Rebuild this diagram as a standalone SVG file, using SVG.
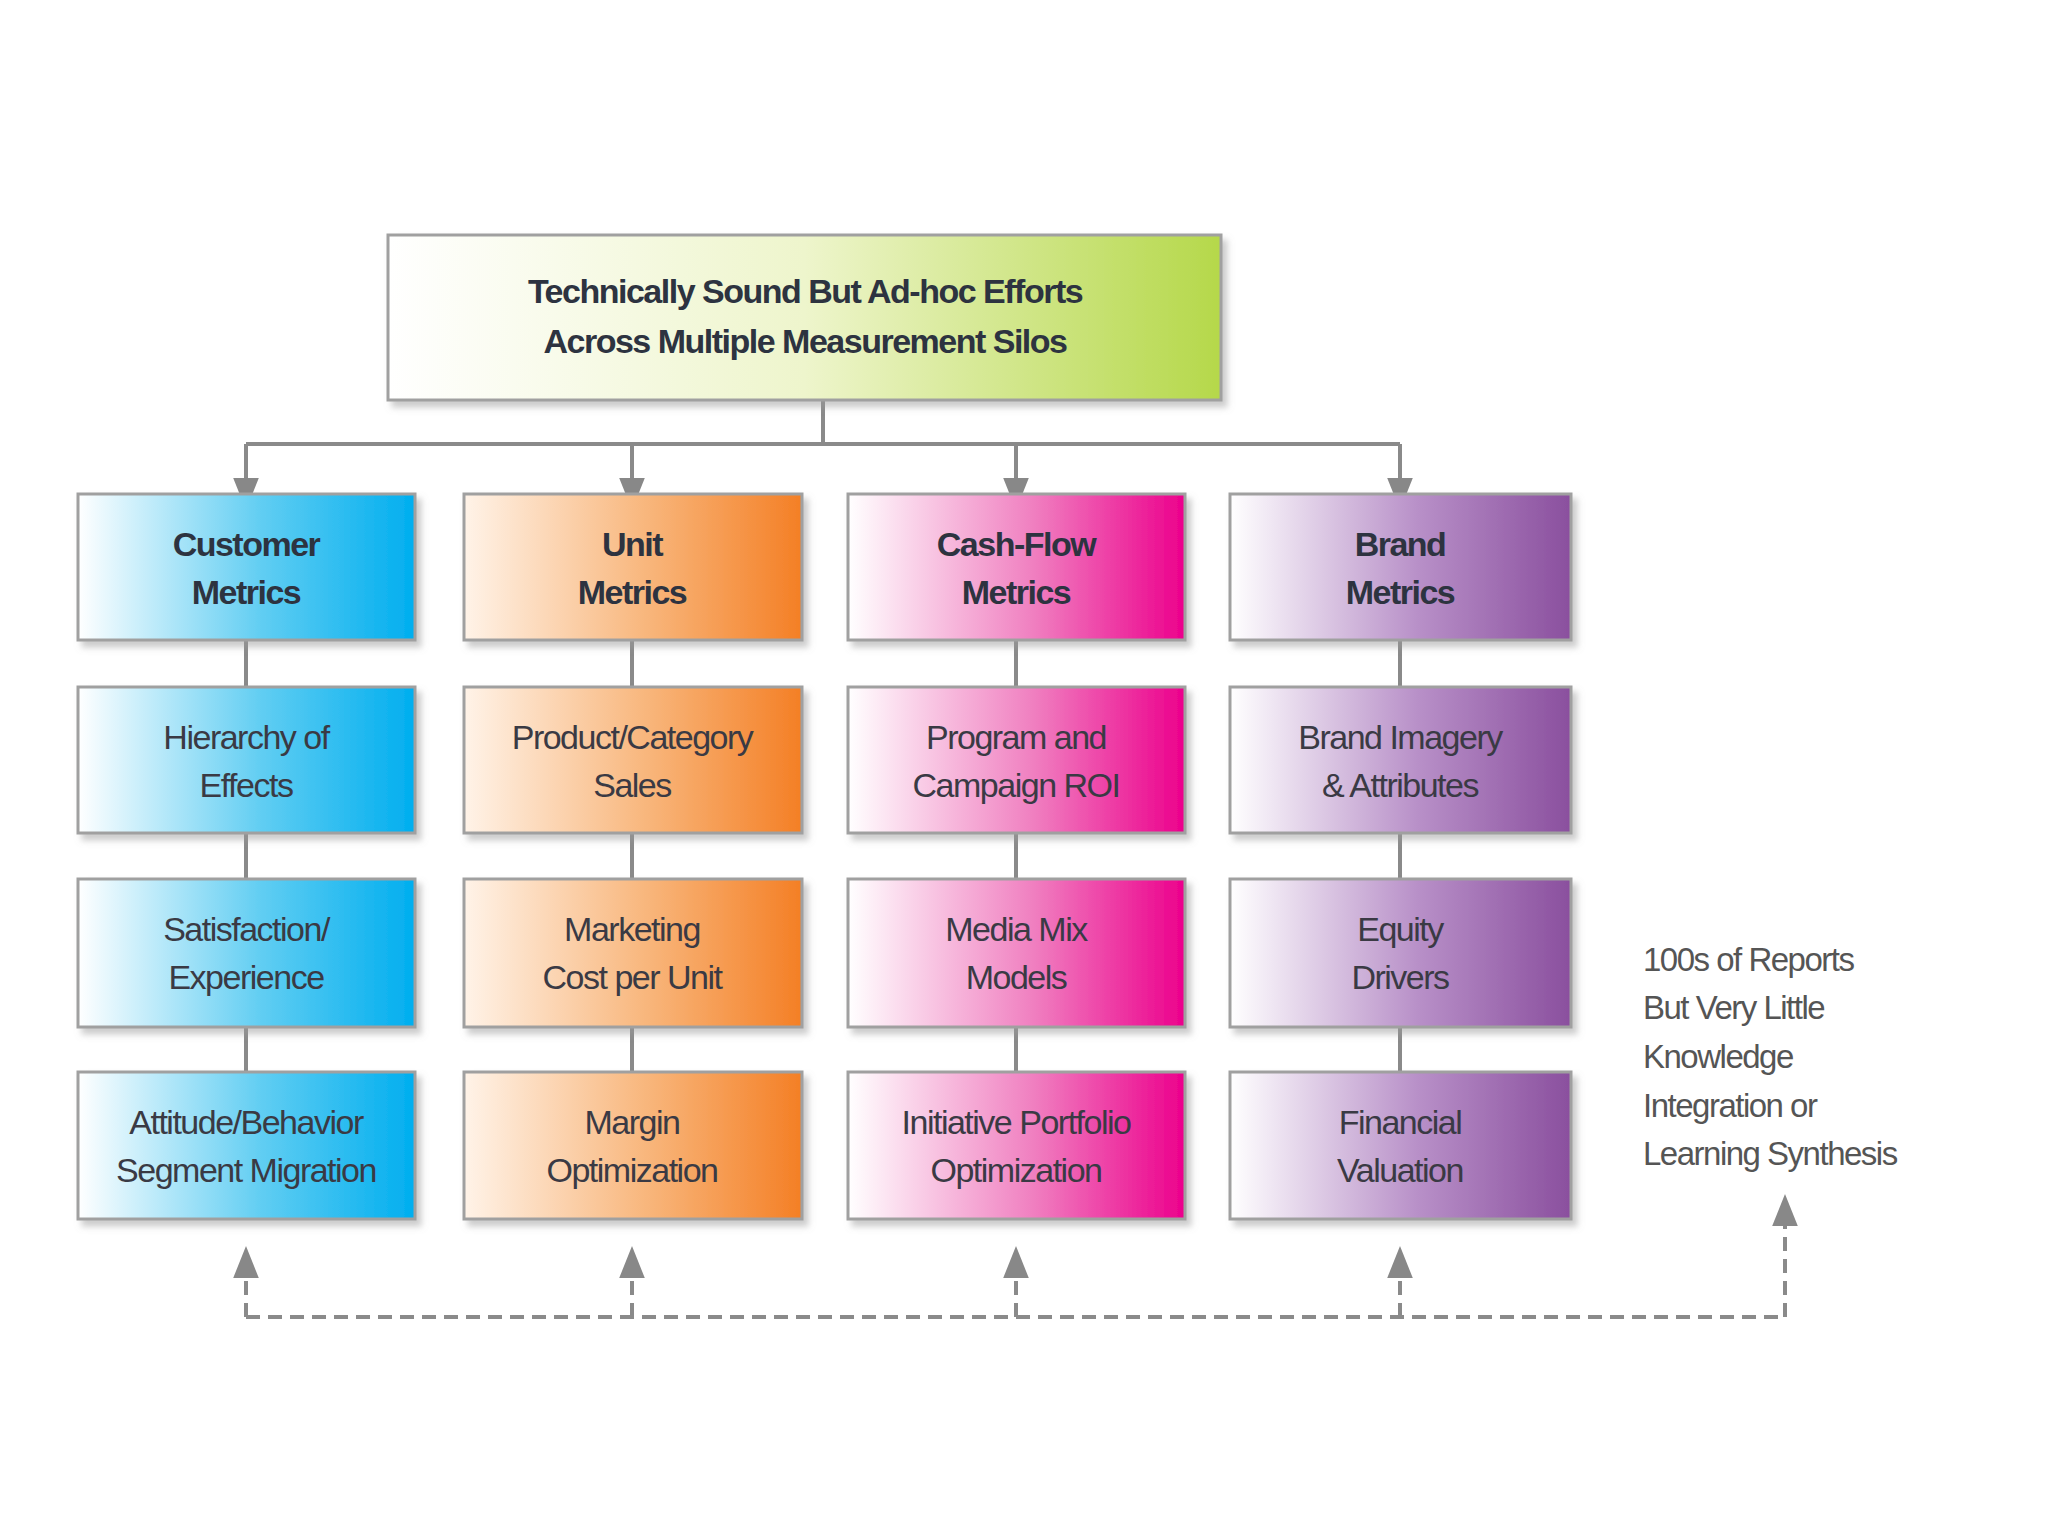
<svg xmlns="http://www.w3.org/2000/svg" width="2048" height="1536" viewBox="0 0 2048 1536">
<defs>
<linearGradient id="gTop" x1="0" x2="1"><stop offset="0" stop-color="#ffffff"/><stop offset="0.5" stop-color="#eef5cc"/><stop offset="1" stop-color="#b5d84a"/></linearGradient>
<linearGradient id="gB" x1="0" x2="1"><stop offset="0" stop-color="#ffffff"/><stop offset="0.55" stop-color="#5fcdf2"/><stop offset="1" stop-color="#00aeef"/></linearGradient>
<linearGradient id="gO" x1="0" x2="1"><stop offset="0" stop-color="#fff3e8"/><stop offset="0.55" stop-color="#f8b57a"/><stop offset="1" stop-color="#f47f25"/></linearGradient>
<linearGradient id="gP" x1="0" x2="1"><stop offset="0" stop-color="#ffffff"/><stop offset="0.55" stop-color="#f07fc0"/><stop offset="1" stop-color="#ec008c"/></linearGradient>
<linearGradient id="gV" x1="0" x2="1"><stop offset="0" stop-color="#ffffff"/><stop offset="0.55" stop-color="#b890c8"/><stop offset="1" stop-color="#8a4f9e"/></linearGradient>
<marker id="ah" viewBox="0 0 10 10" refX="5" refY="5" markerWidth="8" markerHeight="8" orient="auto-start-reverse"><path d="M0,1 L10,5 L0,9 z" fill="#888"/></marker>
<filter id="sh" x="-5%" y="-5%" width="115%" height="120%"><feDropShadow dx="5" dy="6" stdDeviation="3" flood-color="#999" flood-opacity="0.5"/></filter>
</defs>
<style>
.box{stroke:#a0a0a0;stroke-width:3;filter:url(#sh)}
text{font-family:"Liberation Sans",Arial,sans-serif;fill:#3a3a44;text-anchor:middle;font-size:34px;letter-spacing:-1.5px}
.h{font-weight:bold;fill:#2d3340}
.c{stroke:#8a8a8a;stroke-width:4;fill:none}
.d{stroke:#8a8a8a;stroke-width:4;fill:none;stroke-dasharray:14 8}
.note{text-anchor:start;font-size:33px;fill:#555}
</style>
<rect width="2048" height="1536" fill="#fff"/>
<g id="connectors">
<path class="c" d="M823,400 V444 M246,444 H1400"/>
<path class="c" d="M246,444 V494" marker-end="url(#ah)"/>
<path class="c" d="M632,444 V494" marker-end="url(#ah)"/>
<path class="c" d="M1016,444 V494" marker-end="url(#ah)"/>
<path class="c" d="M1400,444 V494" marker-end="url(#ah)"/>
<path class="c" d="M246,640 V1072 M632,640 V1072 M1016,640 V1072 M1400,640 V1072"/>
<path class="d" d="M246,1317 H1785"/>
<path class="d" d="M246,1317 V1262" marker-end="url(#ah)"/>
<path class="d" d="M632,1317 V1262" marker-end="url(#ah)"/>
<path class="d" d="M1016,1317 V1262" marker-end="url(#ah)"/>
<path class="d" d="M1400,1317 V1262" marker-end="url(#ah)"/>
<path class="d" d="M1785,1317 V1210" marker-end="url(#ah)"/>
</g>
<g id="top"><rect class="box" x="388" y="235" width="833" height="165" fill="url(#gTop)"/><text class="h" x="805" y="303">Technically Sound But Ad-hoc Efforts</text><text class="h" x="805" y="353">Across Multiple Measurement Silos</text></g>

<g id="c1"><rect class="box" x="78" y="494" width="337" height="146" fill="url(#gB)"/><text class="h" x="246" y="556">Customer</text><text class="h" x="246" y="604">Metrics</text></g>
<g id="c2"><rect class="box" x="78" y="687" width="337" height="146" fill="url(#gB)"/><text x="246" y="749">Hierarchy of</text><text x="246" y="797">Effects</text></g>
<g id="c3"><rect class="box" x="78" y="879" width="337" height="148" fill="url(#gB)"/><text x="246" y="941">Satisfaction/</text><text x="246" y="989">Experience</text></g>
<g id="c4"><rect class="box" x="78" y="1072" width="337" height="147" fill="url(#gB)"/><text x="246" y="1134">Attitude/Behavior</text><text x="246" y="1182">Segment Migration</text></g>

<g id="u1"><rect class="box" x="464" y="494" width="338" height="146" fill="url(#gO)"/><text class="h" x="632" y="556">Unit</text><text class="h" x="632" y="604">Metrics</text></g>
<g id="u2"><rect class="box" x="464" y="687" width="338" height="146" fill="url(#gO)"/><text x="632" y="749">Product/Category</text><text x="632" y="797">Sales</text></g>
<g id="u3"><rect class="box" x="464" y="879" width="338" height="148" fill="url(#gO)"/><text x="632" y="941">Marketing</text><text x="632" y="989">Cost per Unit</text></g>
<g id="u4"><rect class="box" x="464" y="1072" width="338" height="147" fill="url(#gO)"/><text x="632" y="1134">Margin</text><text x="632" y="1182">Optimization</text></g>

<g id="f1"><rect class="box" x="848" y="494" width="337" height="146" fill="url(#gP)"/><text class="h" x="1016" y="556">Cash-Flow</text><text class="h" x="1016" y="604">Metrics</text></g>
<g id="f2"><rect class="box" x="848" y="687" width="337" height="146" fill="url(#gP)"/><text x="1016" y="749">Program and</text><text x="1016" y="797">Campaign ROI</text></g>
<g id="f3"><rect class="box" x="848" y="879" width="337" height="148" fill="url(#gP)"/><text x="1016" y="941">Media Mix</text><text x="1016" y="989">Models</text></g>
<g id="f4"><rect class="box" x="848" y="1072" width="337" height="147" fill="url(#gP)"/><text x="1016" y="1134">Initiative Portfolio</text><text x="1016" y="1182">Optimization</text></g>

<g id="b1"><rect class="box" x="1230" y="494" width="341" height="146" fill="url(#gV)"/><text class="h" x="1400" y="556">Brand</text><text class="h" x="1400" y="604">Metrics</text></g>
<g id="b2"><rect class="box" x="1230" y="687" width="341" height="146" fill="url(#gV)"/><text x="1400" y="749">Brand Imagery</text><text x="1400" y="797">&amp; Attributes</text></g>
<g id="b3"><rect class="box" x="1230" y="879" width="341" height="148" fill="url(#gV)"/><text x="1400" y="941">Equity</text><text x="1400" y="989">Drivers</text></g>
<g id="b4"><rect class="box" x="1230" y="1072" width="341" height="147" fill="url(#gV)"/><text x="1400" y="1134">Financial</text><text x="1400" y="1182">Valuation</text></g>

<g id="note"><text class="note" x="1643" y="971">100s of Reports</text><text class="note" x="1643" y="1019">But Very Little</text><text class="note" x="1643" y="1068">Knowledge</text><text class="note" x="1643" y="1117">Integration or</text><text class="note" x="1643" y="1165">Learning Synthesis</text></g>
</svg>
